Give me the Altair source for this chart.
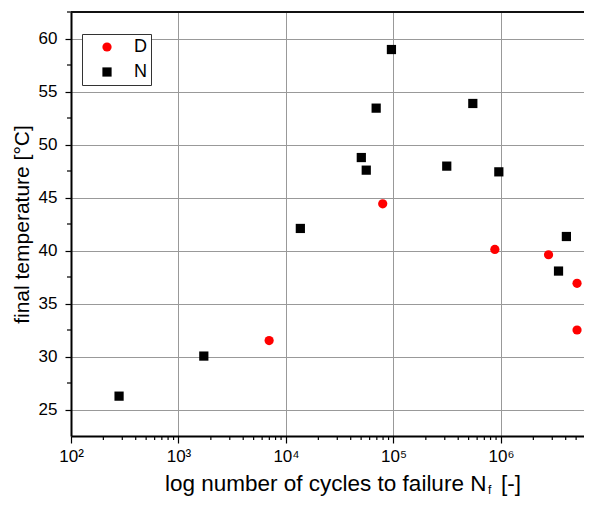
import altair as alt
import pandas as pd

# ---- data ----
D_cycles = [6970, 79400, 877000, 2770000, 5100000, 5100000]
D_temp = [31.5, 44.4, 40.1, 39.6, 36.9, 32.5]
N_cycles = [280, 1720, 13600, 50200, 55800, 69000, 95700, 313000, 547000, 955000, 3430000, 4060000]
N_temp = [26.26, 30.04, 42.08, 48.77, 47.58, 53.43, 58.96, 47.96, 53.87, 47.42, 38.06, 41.32]

series_names = ["D", "N"]
series_colors = ["#ff0000", "#000000"]
series_shapes = ["circle", "square"]

x_major = [100, 1000, 10000, 100000, 1000000]
x_minor = [m * 10 ** e for e in range(2, 7) for m in range(2, 10) if m * 10 ** e <= 5900000]
y_major = [25, 30, 35, 40, 45, 50, 55, 60]
y_minor = [27.5, 32.5, 37.5, 42.5, 47.5, 52.5, 57.5, 62.5]

x_domain = [100, 5920000]
y_domain = [22.5, 62.5]

y_title = "final temperature [°C]"
x_title_parts = ["log number of cycles to failure N", "f", "[-]"]

FONT = "Liberation Sans"
W, H = 513, 424

df = pd.DataFrame({
    "cycles": D_cycles + N_cycles,
    "temp": D_temp + N_temp,
    "series": ["D"] * len(D_cycles) + ["N"] * len(N_cycles),
})

xs = alt.Scale(type="log", domain=x_domain, nice=False)
ys = alt.Scale(domain=y_domain, nice=False, zero=False)

label_expr = ("datum.value == 100 ? '10\u00b2' : datum.value == 1000 ? '10\u00b3' : "
              "datum.value == 10000 ? '10\u2074' : datum.value == 100000 ? '10\u2075' : '10\u2076'")

ax_x = alt.Axis(
    values=x_major, labelExpr=label_expr, title=None, grid=True,
    gridColor="#999999", gridWidth=1, tickSize=7, tickColor="#000000", tickWidth=1.2,
    domainColor="#000000", domainWidth=2, labelFontSize=17, labelFont=FONT,
    labelColor="#000000", labelPadding=5, labelFlush=False)
ax_y = alt.Axis(
    values=y_major, title=y_title, grid=True, gridColor="#999999", gridWidth=1,
    tickSize=6, tickColor="#000000", tickWidth=1.2, domainColor="#000000", domainWidth=2,
    labelFontSize=17, labelFont=FONT, labelColor="#000000", labelPadding=8,
    titleFontSize=21, titleFont=FONT, titleFontWeight="normal", titleColor="#000000",
    titlePadding=6)

leg = alt.Legend(title=None, orient="none", legendX=11, legendY=22, strokeColor="#333333",
                 fillColor="#ffffff", padding=4, symbolOffset=12, labelOffset=18,
                 labelFontSize=18, labelFont=FONT, labelColor="#000000", rowPadding=7,
                 symbolSize=85, symbolStrokeWidth=0, cornerRadius=0)

points = alt.Chart(df).mark_point(filled=True, size=85, opacity=1).encode(
    x=alt.X("cycles:Q", scale=xs, axis=ax_x),
    y=alt.Y("temp:Q", scale=ys, axis=ax_y),
    color=alt.Color("series:N", scale=alt.Scale(domain=series_names, range=series_colors),
                    legend=leg),
    shape=alt.Shape("series:N", scale=alt.Scale(domain=series_names, range=series_shapes),
                    legend=leg),
)

ymin = alt.Chart(pd.DataFrame({"v": y_minor})).mark_rule(color="#000000", strokeWidth=1.2).encode(
    y=alt.Y("v:Q", scale=ys, axis=ax_y), x=alt.value(-4), x2=alt.value(0))

xmin = alt.Chart(pd.DataFrame({"v": x_minor})).mark_rule(color="#000000", strokeWidth=1.2).encode(
    x=alt.X("v:Q", scale=xs, axis=ax_x), y=alt.value(H), y2=alt.value(H + 4))

top = alt.Chart(pd.DataFrame({"v": [0]})).mark_rule(color="#111111", strokeWidth=2).encode(
    y=alt.value(0), x=alt.value(0), x2=alt.value(W))

tdf = pd.DataFrame({"t": [0]})
t_main = alt.Chart(tdf).mark_text(font=FONT, fontSize=22.5, align="left", baseline="alphabetic",
                                  color="#000000").encode(
    x=alt.value(94), y=alt.value(479), text=alt.value(x_title_parts[0]))
t_sub = alt.Chart(tdf).mark_text(font=FONT, fontSize=12, align="left", baseline="alphabetic",
                                 color="#000000").encode(
    x=alt.value(417), y=alt.value(482), text=alt.value(x_title_parts[1]))
t_end = alt.Chart(tdf).mark_text(font=FONT, fontSize=22.5, align="left", baseline="alphabetic",
                                 color="#000000").encode(
    x=alt.value(430), y=alt.value(479), text=alt.value(x_title_parts[2]))

chart = alt.layer(points, ymin, xmin, top, t_main, t_sub, t_end).properties(
    width=W, height=H,
    autosize=alt.AutoSizeParams(type="none"),
    padding={"left": 63, "top": 4, "right": 0, "bottom": 61},
).configure_view(stroke=None).configure(background="#ffffff")

chart.save("out.html", embed_options={"renderer": "svg", "actions": False})
